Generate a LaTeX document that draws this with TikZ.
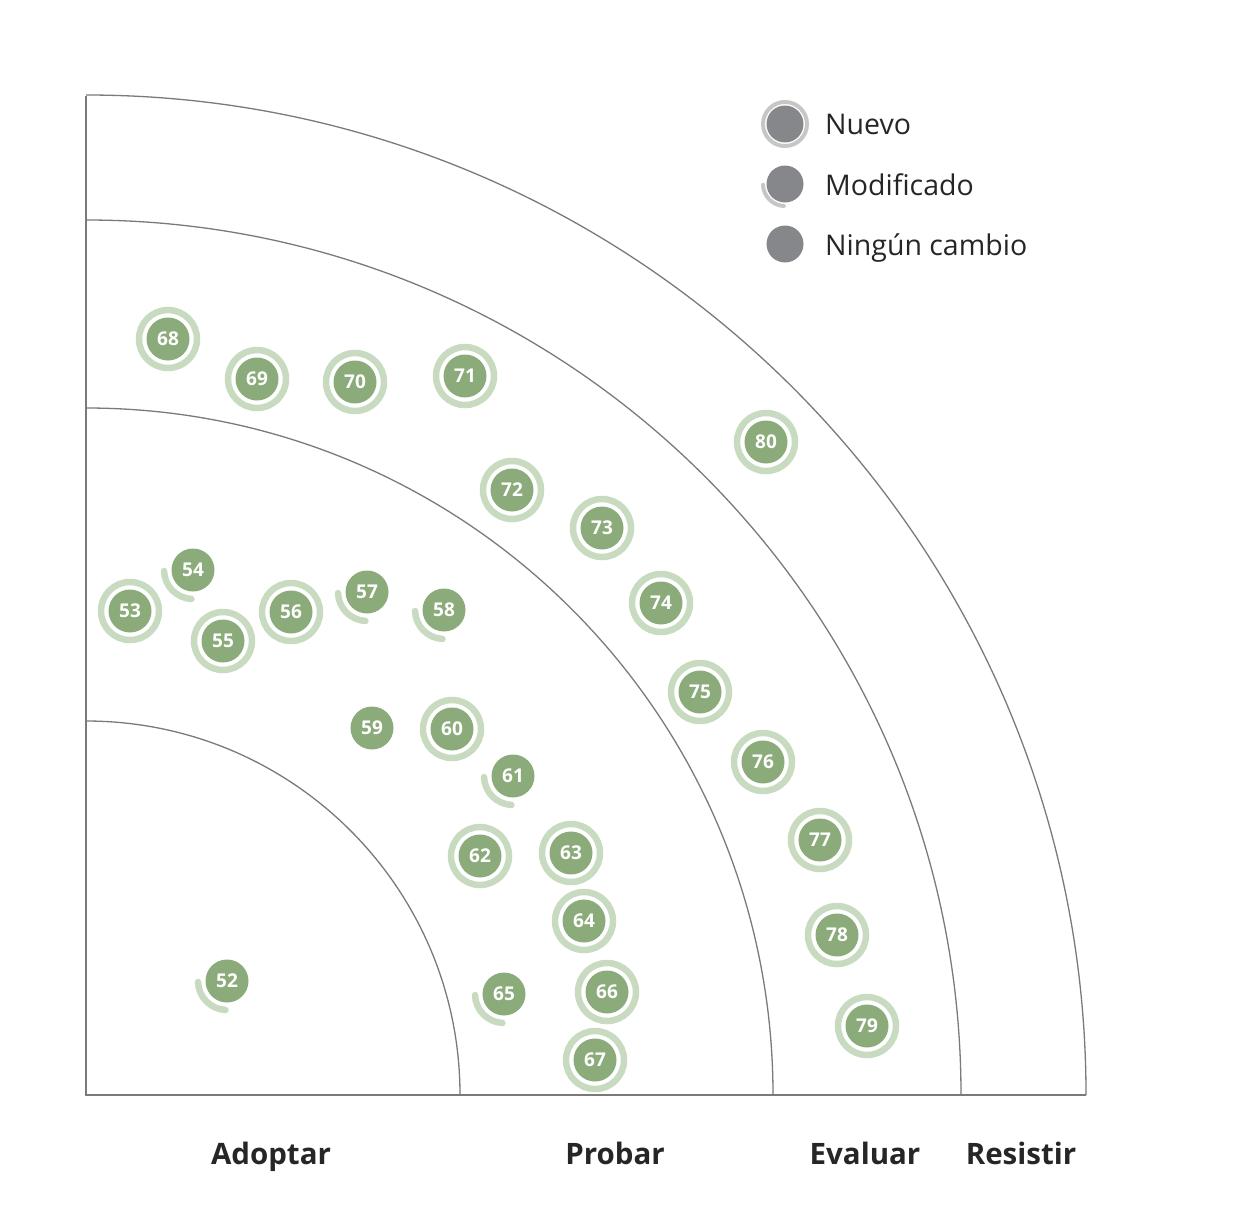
\documentclass[tikz,border=0pt]{standalone}
\usepackage{fontspec}
\setmainfont{Open Sans}
\usetikzlibrary{positioning}
\definecolor{blipgreen}{HTML}{8BAC7A}
\definecolor{ringgreen}{HTML}{C8DBC0}
\definecolor{legendgray}{HTML}{86878B}
\definecolor{legendring}{HTML}{C6C6C6}
\definecolor{gridgray}{HTML}{7A7A7A}

\begin{document}
\begin{tikzpicture}[x=1pt, y=-1pt,
    grid/.style={draw=gridgray, line width=1.3pt},
    blip/.style={circle, fill=blipgreen, text=white, minimum size=43pt,
      inner sep=0pt, font=\fontsize{19}{19}\selectfont\bfseries},
    newring/.style={draw=ringgreen, line width=6.5pt},
    modring/.style={draw=ringgreen, line width=6.5pt, line cap=round},
    legdot/.style={circle, fill=legendgray, minimum size=37pt, inner sep=0pt},
    legring/.style={draw=legendring, line width=4pt, line cap=round},
    legtext/.style={anchor=base west, inner sep=0pt, text=black!85,
      font=\fontsize{28.5}{28.5}\selectfont},
    ringname/.style={anchor=base, inner sep=0pt, text=black!85,
      font=\fontsize{29.5}{29.5}\selectfont\bfseries}]
  \useasboundingbox (0,0) rectangle (1246,1220);

  % quadrant
  \draw[grid] (86,96) -- (86,1095) -- (1086,1095);
  \foreach \r in {374,687,875,1000}
    \draw[grid] (86+\r,1095) arc[start angle=0, end angle=90, radius=\r pt];

  % new blips
  \foreach \n/\x/\y in {53/130/611, 55/223/641, 56/291/612, 60/452/729,
      62/480/856, 63/571/853, 64/584/921, 66/607/992, 67/595/1060,
      68/168/339, 69/257/379, 70/355/382, 71/465/376, 72/512/490,
      73/602/528, 74/661/603, 75/700/692, 76/763/762, 77/820/840,
      78/837/935, 79/867/1026, 80/766/442}
  {\node[blip] (b\n) at (\x,\y) {\n};
    \draw[newring] (b\n.center) circle[radius=29pt];
  }

  % modified blips
  \foreach \n/\x/\y in {52/227/981, 54/193/570, 57/367/592, 58/444/610,
      61/513/776, 65/504/994}
  {\node[blip] (b\n) at (\x,\y) {\n};
    \draw[modring] (b\n.center) ++(182:29pt)
      arc[start angle=182, end angle=267, radius=29pt];
  }

  % unchanged
  \node[blip] (b59) at (372,728) {59};

  % legend
  \node[legdot] (nuevo) at (785,124) {};
  \draw[legring] (nuevo.center) circle[radius=22pt];
  \node[legdot] (modif) at (785,184) {};
  \draw[legring] (modif.center) ++(182:22pt)
    arc[start angle=182, end angle=267, radius=22pt];
  \node[legdot] (sincambio) at (785,244) {};
  \node[legtext] (tnuevo) at (825,135) {Nuevo};
  \node[legtext] (tmodif) at (825,195) {Modificado};
  \node[legtext] (tsincambio) at (825,255) {Ningún cambio};

  % ring names
  \node[ringname] (adoptar) at (271,1164) {Adoptar};
  \node[ringname] (probar) at (615,1164) {Probar};
  \node[ringname] (evaluar) at (865,1164) {Evaluar};
  \node[ringname] (resistir) at (1021,1164) {Resistir};
\end{tikzpicture}
\end{document}
